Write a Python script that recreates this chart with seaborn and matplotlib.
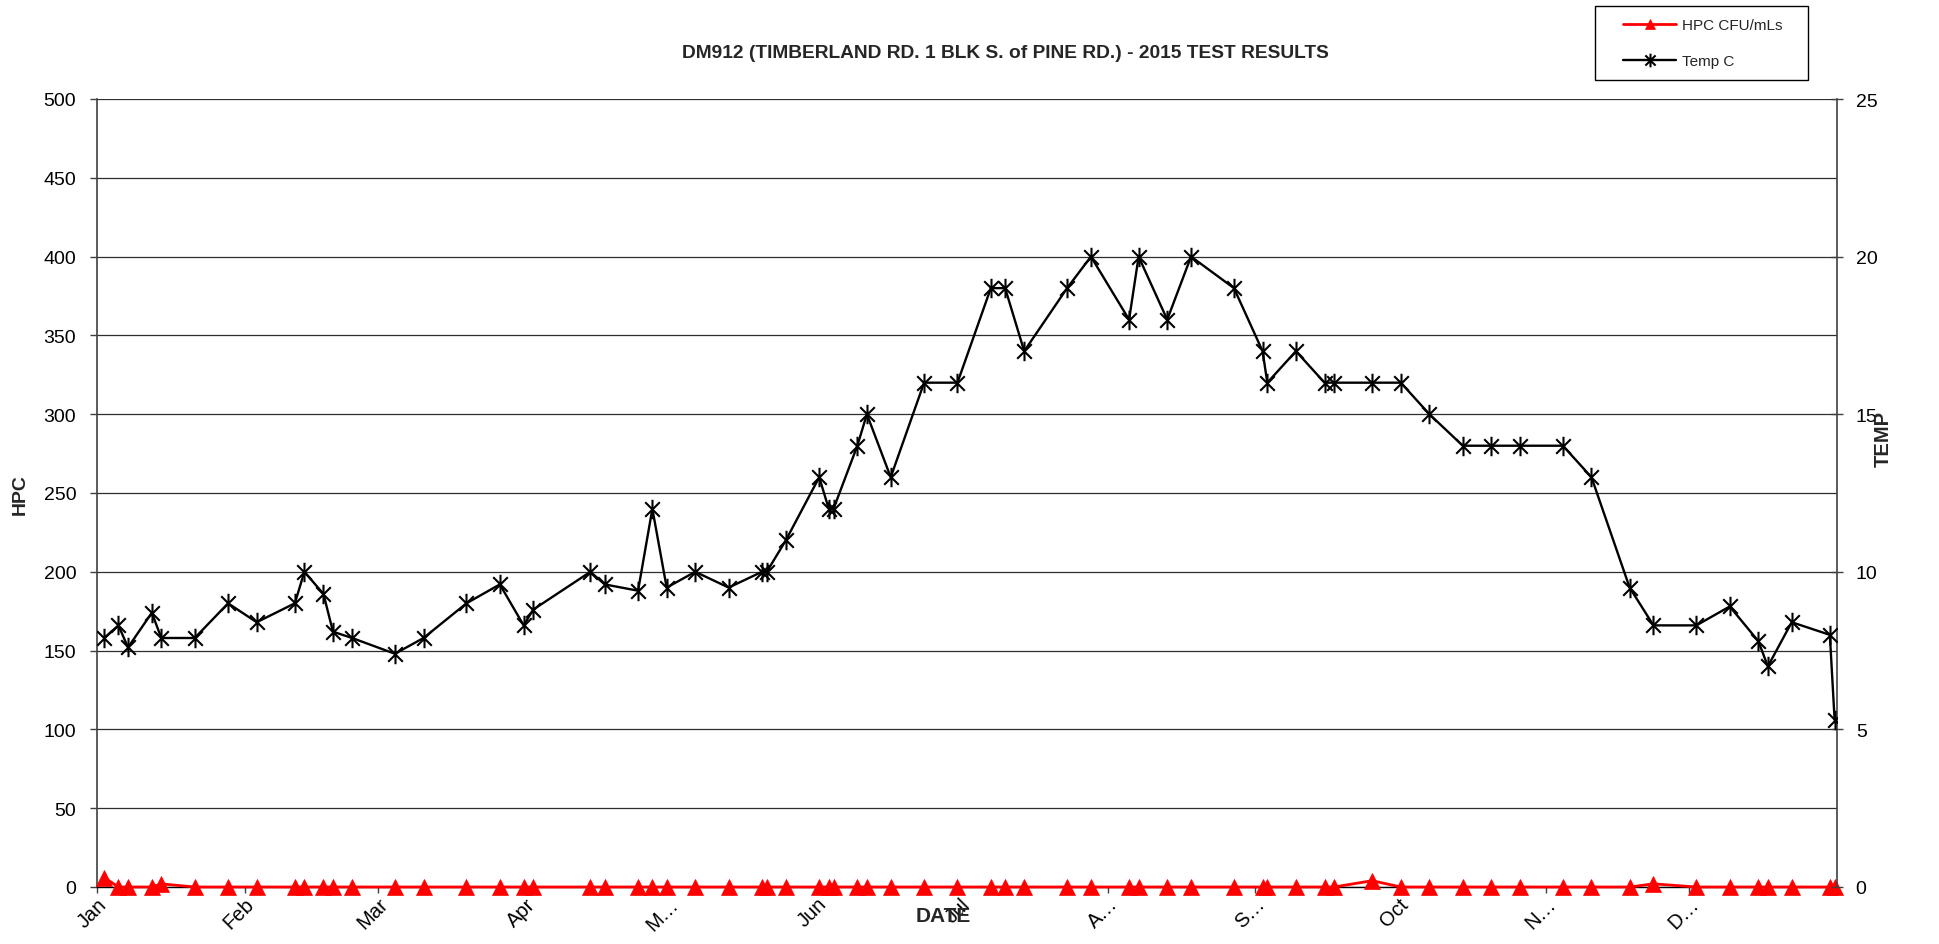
import numpy as np
import pandas as pd
import matplotlib
matplotlib.use("Agg")
import matplotlib.pyplot as plt
from matplotlib.path import Path
from matplotlib.patches import Rectangle
import seaborn as sns

# Sampling dates for site DM912 during 2015
sample_dates = [
    "2015-01-02", "2015-01-05", "2015-01-07", "2015-01-12", "2015-01-14", "2015-01-21", "2015-01-28",
    "2015-02-03", "2015-02-11", "2015-02-13", "2015-02-17", "2015-02-19", "2015-02-23",
    "2015-03-04", "2015-03-10", "2015-03-19", "2015-03-26", "2015-03-31",
    "2015-04-02", "2015-04-14", "2015-04-17", "2015-04-24", "2015-04-27", "2015-04-30",
    "2015-05-06", "2015-05-13", "2015-05-20", "2015-05-21", "2015-05-25",
    "2015-06-01", "2015-06-03", "2015-06-04", "2015-06-09", "2015-06-11", "2015-06-16", "2015-06-23", "2015-06-30",
    "2015-07-07", "2015-07-10", "2015-07-14", "2015-07-23", "2015-07-28",
    "2015-08-05", "2015-08-07", "2015-08-13", "2015-08-18", "2015-08-27",
    "2015-09-02", "2015-09-03", "2015-09-09", "2015-09-15", "2015-09-17", "2015-09-25",
    "2015-10-01", "2015-10-07", "2015-10-14", "2015-10-20", "2015-10-26",
    "2015-11-04", "2015-11-10", "2015-11-18", "2015-11-23",
    "2015-12-02", "2015-12-09", "2015-12-15", "2015-12-17", "2015-12-22", "2015-12-30", "2015-12-31",
]

# Heterotrophic plate count (CFU/mL)
hpc_cfu = [
    6, 0, 0, 0, 2, 0, 0,
    0, 0, 0, 0, 0, 0,
    0, 0, 0, 0, 0,
    0, 0, 0, 0, 0, 0,
    0, 0, 0, 0, 0,
    0, 0, 0, 0, 0, 0, 0, 0,
    0, 0, 0, 0, 0,
    0, 0, 0, 0, 0,
    0, 0, 0, 0, 0, 4,
    0, 0, 0, 0, 0,
    0, 0, 0, 2,
    0, 0, 0, 0, 0, 0, 0,
]

# Water temperature (deg C)
temp_c = [
    7.9, 8.3, 7.6, 8.7, 7.9, 7.9, 9.0,
    8.4, 9.0, 10.0, 9.3, 8.1, 7.9,
    7.4, 7.9, 9.0, 9.6, 8.3,
    8.8, 10.0, 9.6, 9.4, 12.0, 9.5,
    10.0, 9.5, 10.0, 10.0, 11.0,
    13.0, 12.0, 12.0, 14.0, 15.0, 13.0, 16.0, 16.0,
    19.0, 19.0, 17.0, 19.0, 20.0,
    18.0, 20.0, 18.0, 20.0, 19.0,
    17.0, 16.0, 17.0, 16.0, 16.0, 16.0,
    16.0, 15.0, 14.0, 14.0, 14.0,
    14.0, 13.0, 9.5, 8.3,
    8.3, 8.9, 7.8, 7.0, 8.4, 8.0, 5.3,
]

month_labels = ["Jan", "Feb", "Mar", "Apr", "M\u2026", "Jun", "Jul",
                "A\u2026", "S\u2026", "Oct", "N\u2026", "D\u2026"]
hpc_ticks = list(range(0, 501, 50))
temp_ticks = [0, 5, 10, 15, 20, 25]

sns.set_style("white")
plt.rcParams["font.family"] = ["Liberation Sans", "DejaVu Sans"]

df = pd.DataFrame({
    "date": pd.to_datetime(sample_dates) + pd.Timedelta(hours=12),
    "hpc": hpc_cfu,
    "temp": temp_c,
})

W, H = 1940, 945
fig = plt.figure(figsize=(W / 100, H / 100), dpi=100)
fig.patch.set_facecolor("white")
ax = fig.add_axes([97 / W, 57 / H, 1740 / W, 788 / H])
ax2 = ax.twinx()

# Asterisk marker: X plus a vertical stroke
star = Path(
    [(0, -1), (0, 1), (-0.75, -0.75), (0.75, 0.75), (-0.75, 0.75), (0.75, -0.75)],
    [Path.MOVETO, Path.LINETO, Path.MOVETO, Path.LINETO, Path.MOVETO, Path.LINETO],
)

sns.lineplot(data=df, x="date", y="hpc", ax=ax, color="#ff0000", lw=2.0,
             marker="^", markersize=11, markeredgecolor="#ff0000",
             markerfacecolor="#ff0000", markeredgewidth=0.5,
             clip_on=False, zorder=5, label="HPC CFU/mLs", legend=False)
sns.lineplot(data=df, x="date", y="temp", ax=ax2, color="black", lw=1.7,
             marker=star, markersize=14, markeredgecolor="black",
             markerfacecolor="none", markeredgewidth=1.5,
             zorder=5, label="Temp C", legend=False)

start, end = pd.Timestamp("2015-01-01"), pd.Timestamp("2016-01-01")
ax.set_xlim(start, end)
ax.set_ylim(0, 500)
ax2.set_ylim(0, 25)

month_starts = pd.date_range("2015-01-01", periods=12, freq="MS")
ax.set_xticks(month_starts)
ax.set_xticklabels(month_labels, rotation=45, ha="right", va="top",
                   rotation_mode="anchor")
ax.set_yticks(hpc_ticks)
ax.set_yticklabels([str(v) for v in hpc_ticks])
ax2.set_yticks(temp_ticks)
ax2.set_yticklabels([str(v) for v in temp_ticks])

ax.set_xlabel("")
ax.set_ylabel("")
ax2.set_ylabel("")

ax.yaxis.grid(True, color="#2e2e2e", lw=0.9)
ax.xaxis.grid(False)
ax.set_axisbelow(True)

for side in ["top", "right"]:
    ax.spines[side].set_visible(False)
for side in ["top", "left", "bottom"]:
    ax2.spines[side].set_visible(False)
ax.spines["left"].set_color("#404040")
ax.spines["left"].set_linewidth(1.2)
ax.spines["bottom"].set_color("black")
ax.spines["bottom"].set_linewidth(1.0)
ax2.spines["right"].set_color("#404040")
ax2.spines["right"].set_linewidth(1.2)

ax.tick_params(axis="y", direction="out", length=5, width=1, color="#404040",
               pad=10, labelsize=14, labelcolor="black", left=True)
ax.tick_params(axis="x", direction="out", length=4, width=1, color="#404040",
               pad=1, labelsize=14.5, labelcolor="black", bottom=True)
ax2.tick_params(axis="y", direction="inout", length=9, width=1, color="#404040",
                pad=9, labelsize=14, labelcolor="black", right=True)

fig.text(1005 / W, 1 - 53 / H,
         "DM912 (TIMBERLAND RD. 1 BLK S. of PINE RD.) - 2015 TEST RESULTS",
         ha="center", va="center", fontsize=13.8, fontweight="bold")
fig.text(20 / W, 1 - 495 / H, "HPC", rotation=90, ha="center", va="center",
         fontsize=14, fontweight="bold")
fig.text(1883 / W, 1 - 439 / H, "TEMP", rotation=90, ha="center", va="center",
         fontsize=14.5, fontweight="bold")
fig.text(943 / W, 1 - 917 / H, "DATE", ha="center", va="center",
         fontsize=15, fontweight="bold")

# Legend with a plain rectangular frame
fig.patches.append(Rectangle((1595 / W, 1 - 81 / H), 213 / W, 74 / H,
                             transform=fig.transFigure, fill=False,
                             edgecolor="black", lw=1.0))
handles = [ax.lines[0], ax2.lines[0]]
fig.legend(handles, ["HPC CFU/mLs", "Temp C"], loc="center left",
           bbox_to_anchor=(1623 / W, 1 - 44 / H), frameon=False,
           fontsize=11, handlelength=3.5, handletextpad=0.35,
           labelspacing=1.45, borderpad=0, borderaxespad=0,
           markerscale=0.7, numpoints=1)

fig.savefig("out.png", dpi=100, facecolor="white")
